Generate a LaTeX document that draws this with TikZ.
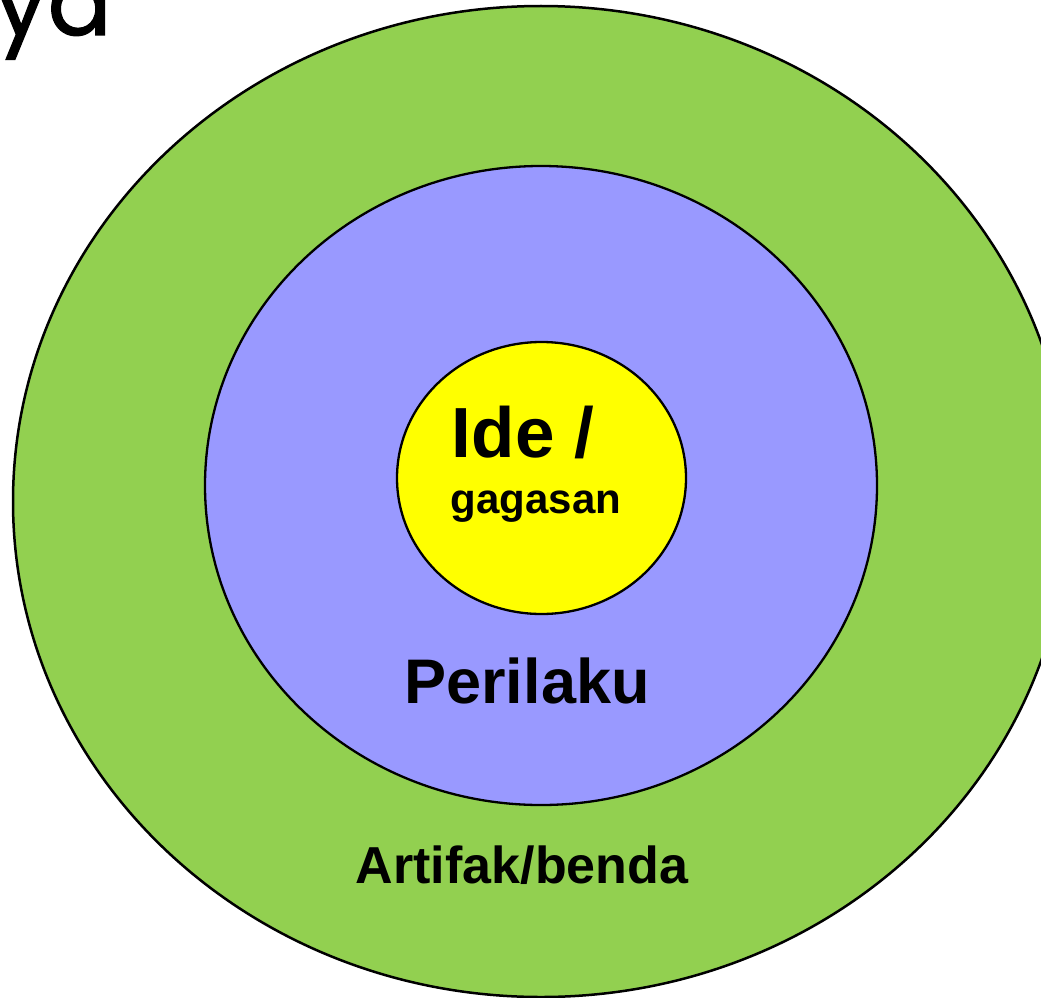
\documentclass[tikz,border=0pt]{standalone}
\usepackage{fontspec}
\setmainfont{Liberation Sans}
\newfontfamily\titlefont[FakeBold=1.2]{Poppins}
\definecolor{ringgreen}{HTML}{92D050}
\definecolor{ringviolet}{HTML}{9999FF}
\definecolor{coreyellow}{HTML}{FFFF00}
\tikzset{
  ring/.style={ellipse, draw=black, line width=2.5pt, inner sep=0pt},
  label/.style={font=\bfseries, text=black, inner sep=0pt},
}
\usetikzlibrary{shapes.geometric}
\begin{document}
\begin{tikzpicture}[x=1pt, y=-1pt]
  \useasboundingbox (0,0) rectangle (1041,998);
  \clip (0,0) rectangle (1041,998);
  % concentric layers of culture
  \node[ring, fill=ringgreen, minimum width=1056pt, minimum height=991pt] (outer) at (541,501.5) {};
  \node[ring, fill=ringviolet, line width=2.3pt, minimum width=672pt, minimum height=639pt] (middle) at (541,485.5) {};
  \node[ring, fill=coreyellow, line width=2.3pt, minimum width=289pt, minimum height=272pt] (core) at (541.5,478) {};
  % layer names
  \node[label, font=\bfseries\fontsize{71}{71}\selectfont, anchor=base] (ide) at (523,457) {Ide /};
  \node[label, font=\bfseries\fontsize{42}{42}\selectfont, anchor=base] (gagasan) at (536,513) {gagasan};
  \node[label, font=\bfseries\fontsize{63}{63}\selectfont, anchor=base] (perilaku) at (527,703) {Perilaku};
  \node[label, font=\bfseries\fontsize{52}{52}\selectfont, anchor=base] (artifak) at (522,883) {Artifak/benda};
  % heading fragment at the top left
  \node[inner sep=0pt, anchor=base east, font=\titlefont\fontsize{95}{95}\selectfont] (heading) at (112,35) {ya};
\end{tikzpicture}
\end{document}
